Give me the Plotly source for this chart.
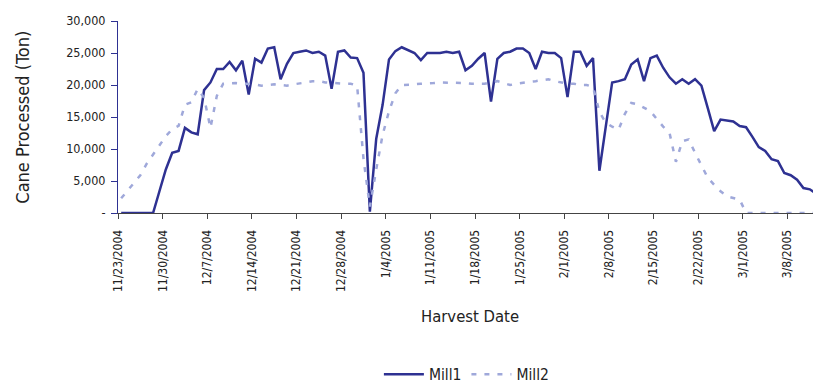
import pandas as pd
import plotly.graph_objects as go

# Daily cane processed (ton), 11/23/2004 onwards
mill1 = [0, 0, 0, 0, 0, 0, 3400, 6800, 9400, 9700,
         13300, 12600, 12300, 19200, 20400, 22500, 22500, 23600, 22300, 23800,
         18500, 24100, 23500, 25700, 25900, 20900, 23300, 25000, 25200, 25400,
         25000, 25200, 24600, 19400, 25200, 25400, 24300, 24200, 21900, 200,
         11600, 16900, 24000, 25300, 25900, 25500, 25000, 23900, 25000, 25000,
         25000, 25200, 25000, 25200, 22300, 23000, 24100, 25000, 17400, 24100,
         25000, 25200, 25700, 25700, 25000, 22500, 25200, 25000, 25000, 24200,
         18100, 25200, 25200, 23000, 24200, 6600, 13400, 20400, 20600, 20900,
         23200, 24000, 20600, 24200, 24600, 22700, 21200, 20200, 20900, 20200,
         20900, 19900, 16400, 12800, 14600, 14400, 14300, 13600, 13400, 11900,
         10300, 9700, 8400, 8100, 6250, 5900, 5200, 3900, 3700, 3000]

mill2 = [2300, 3500, 4700, 5900, 7700, 9100, 10500, 12000, 13100, 13600,
         16900, 17300, 19400, 18000, 13300, 18300, 20200, 20300, 20300, 20200,
         20200, 20100, 19900, 20000, 20100, 20000, 19900, 20100, 20200, 20400,
         20600, 20600, 20400, 20300, 20200, 20200, 20200, 19900, 8500, 1000,
         6800, 12200, 15900, 18700, 20000, 20000, 20100, 20200, 20200, 20300,
         20400, 20400, 20400, 20400, 20300, 20200, 20200, 20200, 20400, 20600,
         20300, 20000, 20200, 20400, 20500, 20600, 20800, 20900, 20600, 20400,
         20200, 20200, 20000, 20000, 19700, 15800, 14100, 13500, 13000, 15500,
         17200, 17000, 16500, 15900, 14700, 13500, 12500, 8000, 11200, 11500,
         9400, 7400, 5500, 4400, 3400, 2600, 2300, 2100, 0, 0,
         0, 0, 0, 0, 0, 0, 0, 0, 0, 0]

start_date = "2004-11-23"
tick_dates = ["2004-11-23", "2004-11-30", "2004-12-07", "2004-12-14", "2004-12-21",
              "2004-12-28", "2005-01-04", "2005-01-11", "2005-01-18", "2005-01-25",
              "2005-02-01", "2005-02-08", "2005-02-15", "2005-02-22", "2005-03-01",
              "2005-03-08"]
tick_labels = ["11/23/2004", "11/30/2004", "12/7/2004", "12/14/2004", "12/21/2004",
               "12/28/2004", "1/4/2005", "1/11/2005", "1/18/2005", "1/25/2005",
               "2/1/2005", "2/8/2005", "2/15/2005", "2/22/2005", "3/1/2005",
               "3/8/2005"]
y_ticks = [0, 5000, 10000, 15000, 20000, 25000, 30000]
y_labels = ["-", "5,000", "10,000", "15,000", "20,000", "25,000", "30,000"]

# each day's value is drawn in the middle of its day band (Excel "between tick marks")
dates = pd.date_range(start_date + " 12:00", periods=len(mill1), freq="D")

FONT = "DejaVu Sans Condensed, DejaVu Sans, sans-serif"
NAVY = "#2e3192"
LIGHT = "#9fa8da"

fig = go.Figure()
fig.add_trace(go.Scatter(x=dates, y=mill1, mode="lines", name="Mill1",
                         line=dict(color=NAVY, width=2.5)))
fig.add_trace(go.Scatter(x=dates, y=mill2, mode="lines", name="Mill2",
                         line=dict(color=LIGHT, width=2.5, dash="5px,8px")))

fig.update_layout(
    width=813, height=383,
    margin=dict(l=118, r=0, t=21, b=170, autoexpand=False),
    paper_bgcolor="white", plot_bgcolor="white",
    font=dict(family=FONT, color="#222222", size=12),
    showlegend=True,
    legend=dict(orientation="h", x=0.502, xanchor="center",
                y=-0.842, yanchor="middle",
                font=dict(size=15.5, family=FONT, color="#222222"),
                itemwidth=40, tracegroupgap=0, borderwidth=0,
                bgcolor="rgba(0,0,0,0)"),
    annotations=[
        dict(text="Harvest Date", xref="paper", yref="paper", x=0.506, y=-0.54,
             xanchor="center", yanchor="middle", showarrow=False,
             font=dict(size=16.5, family=FONT, color="#222222")),
        dict(text="Cane Processed (Ton)", xref="paper", yref="paper", x=-0.1386, y=0.5,
             xanchor="center", yanchor="middle", showarrow=False, textangle=-90,
             font=dict(size=18, family=FONT, color="#222222")),
    ],
)
fig.update_xaxes(
    type="date", range=[start_date, "2005-03-12"],
    tickmode="array", tickvals=tick_dates, ticktext=tick_labels,
    tickangle=-90, ticks="outside", ticklen=5, tickcolor="#444444",
    showline=True, linecolor="#444444", linewidth=1,
    showgrid=False, zeroline=False,
    tickfont=dict(size=12, family=FONT, color="#222222"),
    ticklabelstandoff=6,
)
fig.update_yaxes(
    range=[0, 30000], tickmode="array", tickvals=y_ticks, ticktext=y_labels,
    ticks="outside", ticklen=6, tickcolor=NAVY,
    showline=True, linecolor=NAVY, linewidth=1,
    showgrid=False, zeroline=False,
    tickfont=dict(size=12.5, family=FONT, color="#222222"),
    ticklabelstandoff=3,
)

fig.write_html("out.html")
